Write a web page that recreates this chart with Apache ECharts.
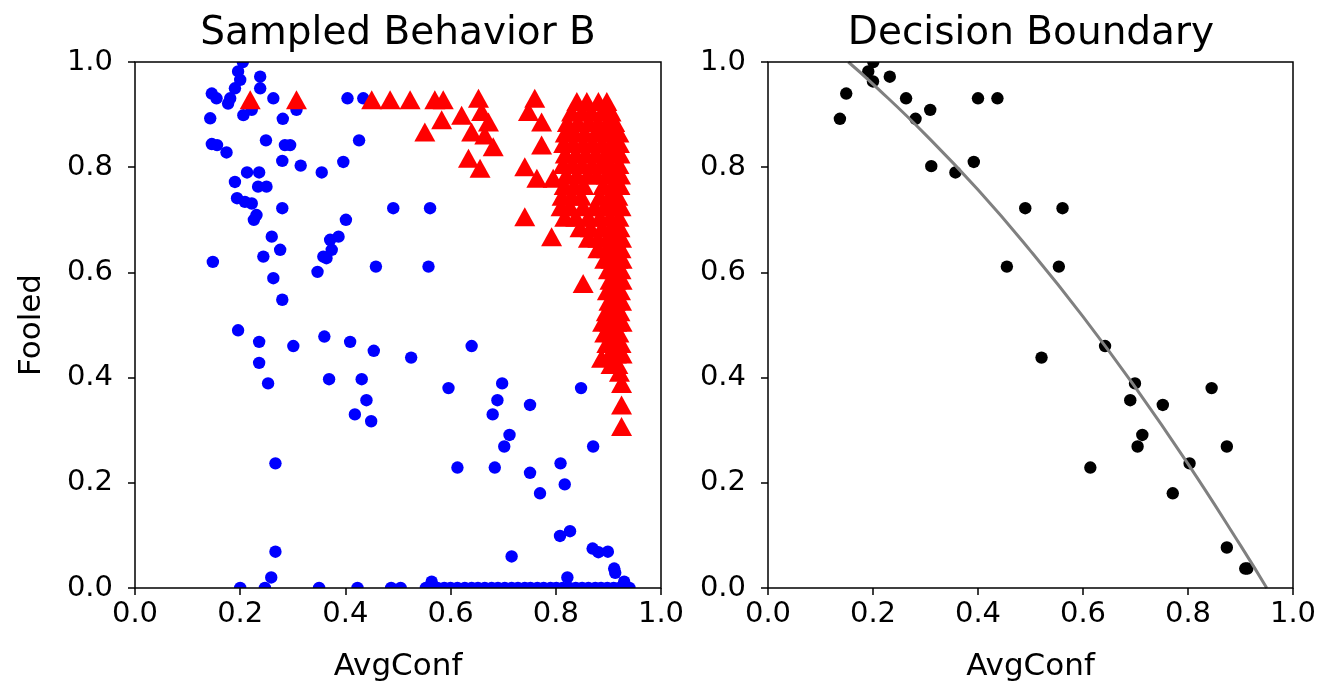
<!DOCTYPE html>
<html lang="en">
<head>
<meta charset="UTF-8">
<title>Sampled Behavior B</title>
<script src="https://cdn.jsdelivr.net/npm/echarts@6/dist/echarts.min.js"></script>
<style>
  html, body { margin: 0; padding: 0; background: #fff; }
  #main { width: 1321px; height: 688px; }
</style>
</head>
<body>
<div id="main"></div>
<script type="text/javascript">
// points: [AvgConf, Fooled]
var notFooled = [
  [0.205,1.0],[0.196,0.982],[0.2,0.966],[0.238,0.972],[0.238,0.95],[0.19,0.95],[0.181,0.931],[0.177,0.921],
  [0.146,0.94],[0.155,0.931],[0.263,0.931],[0.206,0.899],[0.222,0.909],[0.143,0.893],[0.281,0.892],[0.307,0.909],
  [0.404,0.931],[0.434,0.931],[0.249,0.851],[0.426,0.851],[0.146,0.844],[0.156,0.842],[0.174,0.828],[0.285,0.842],
  [0.295,0.842],[0.28,0.812],[0.315,0.803],[0.355,0.79],[0.396,0.81],[0.213,0.79],[0.236,0.79],[0.19,0.772],
  [0.234,0.763],[0.25,0.763],[0.194,0.741],[0.209,0.734],[0.222,0.731],[0.231,0.709],[0.226,0.7],[0.28,0.722],
  [0.491,0.722],[0.561,0.722],[0.401,0.7],[0.26,0.668],[0.276,0.643],[0.244,0.63],[0.387,0.668],[0.371,0.662],
  [0.374,0.643],[0.358,0.63],[0.364,0.627],[0.347,0.601],[0.148,0.62],[0.263,0.589],[0.28,0.548],[0.458,0.611],
  [0.558,0.611],[0.196,0.49],[0.236,0.468],[0.301,0.46],[0.36,0.478],[0.409,0.468],[0.454,0.451],[0.236,0.428],
  [0.253,0.389],[0.369,0.397],[0.431,0.397],[0.44,0.357],[0.418,0.33],[0.449,0.317],[0.267,0.237],[0.267,0.069],
  [0.259,0.02],[0.525,0.438],[0.64,0.46],[0.596,0.38],[0.698,0.389],[0.689,0.357],[0.68,0.33],[0.751,0.348],
  [0.712,0.291],[0.702,0.269],[0.613,0.229],[0.684,0.229],[0.751,0.219],[0.77,0.18],[0.809,0.237],[0.817,0.197],
  [0.848,0.38],[0.871,0.269],[0.808,0.099],[0.827,0.108],[0.716,0.06],[0.87,0.075],[0.881,0.068],[0.899,0.069],
  [0.911,0.037],[0.913,0.029],[0.822,0.02],[0.93,0.012],[0.564,0.012],
  [0.2,0],[0.247,0],[0.35,0],[0.423,0],[0.487,0],[0.505,0],[0.553,0],[0.562,0],[0.575,0],[0.588,0],[0.6,0],
  [0.613,0],[0.627,0],[0.64,0],[0.652,0],[0.665,0],[0.678,0],[0.69,0],[0.703,0],[0.716,0],[0.728,0],[0.741,0],
  [0.752,0],[0.765,0],[0.777,0],[0.79,0],[0.801,0],[0.813,0],[0.826,0],[0.838,0],[0.85,0],[0.862,0],[0.875,0],
  [0.886,0],[0.898,0],[0.91,0],[0.921,0],[0.932,0],[0.94,0]
];

var fooled = [
  [0.219,0.928],[0.307,0.928],[0.450,0.928],[0.485,0.928],[0.523,0.928],[0.570,0.928],[0.586,0.928],[0.551,0.867],
  [0.583,0.890],[0.621,0.899],[0.653,0.931],[0.659,0.906],[0.640,0.867],[0.672,0.886],[0.665,0.861],[0.681,0.839],
  [0.634,0.817],[0.656,0.798],[0.760,0.931],[0.748,0.906],[0.773,0.886],[0.773,0.842],[0.741,0.801],[0.764,0.779],
  [0.795,0.779],[0.741,0.706],[0.792,0.668],[0.852,0.579],[0.887,0.437],[0.925,0.389],[0.925,0.348],[0.925,0.307],
  // dense block on the right
  [0.840,0.925],[0.859,0.925],[0.881,0.925],[0.897,0.925],
  [0.830,0.905],[0.850,0.905],[0.868,0.905],[0.888,0.905],[0.905,0.905],
  [0.822,0.885],[0.842,0.885],[0.862,0.885],[0.880,0.885],[0.898,0.885],[0.912,0.885],
  [0.818,0.865],[0.836,0.865],[0.855,0.865],[0.875,0.865],[0.893,0.865],[0.910,0.865],[0.920,0.865],
  [0.815,0.845],[0.833,0.845],[0.852,0.845],[0.870,0.845],[0.888,0.845],[0.905,0.845],[0.921,0.845],
  [0.818,0.825],[0.838,0.825],[0.857,0.825],[0.876,0.825],[0.894,0.825],[0.910,0.825],[0.922,0.825],
  [0.814,0.805],[0.832,0.805],[0.850,0.805],[0.869,0.805],[0.887,0.805],[0.903,0.805],[0.920,0.805],
  [0.820,0.785],[0.840,0.785],[0.860,0.785],[0.878,0.785],[0.896,0.785],[0.912,0.785],[0.923,0.785],
  [0.816,0.765],[0.835,0.765],[0.853,0.765],[0.890,0.765],[0.908,0.765],[0.922,0.765],
  [0.812,0.745],[0.830,0.745],[0.848,0.745],[0.884,0.745],[0.902,0.745],[0.918,0.745],
  [0.810,0.725],[0.827,0.725],[0.852,0.725],[0.874,0.725],[0.893,0.725],[0.910,0.725],[0.924,0.725],
  [0.817,0.705],[0.838,0.705],[0.862,0.705],[0.884,0.705],[0.903,0.705],[0.920,0.705],
  [0.846,0.685],[0.866,0.685],[0.888,0.685],[0.906,0.685],[0.922,0.685],
  [0.862,0.665],[0.880,0.665],[0.898,0.665],[0.914,0.665],[0.925,0.665],
  [0.880,0.645],[0.897,0.645],[0.912,0.645],[0.924,0.645],
  [0.893,0.625],[0.905,0.625],[0.918,0.625],[0.926,0.625],
  [0.900,0.605],[0.912,0.605],[0.924,0.605],
  [0.903,0.585],[0.915,0.585],[0.926,0.585],
  [0.898,0.565],[0.911,0.565],[0.923,0.565],
  [0.901,0.545],[0.914,0.545],[0.925,0.545],
  [0.896,0.525],[0.909,0.525],[0.922,0.525],
  [0.889,0.505],[0.902,0.505],[0.916,0.505],[0.926,0.505],
  [0.893,0.485],[0.907,0.485],[0.920,0.485],
  [0.897,0.465],[0.910,0.465],[0.924,0.465],
  [0.903,0.445],[0.915,0.445],[0.926,0.445],
  [0.905,0.425],[0.918,0.425],[0.921,0.41]
];

var boundaryPts = [
  [0.2006,1.0],[0.191,0.982],[0.2,0.963],[0.232,0.972],[0.149,0.94],[0.137,0.892],[0.263,0.931],[0.309,0.909],
  [0.281,0.892],[0.4,0.931],[0.437,0.931],[0.311,0.802],[0.357,0.79],[0.392,0.81],[0.49,0.722],[0.561,0.722],
  [0.455,0.611],[0.554,0.611],[0.521,0.438],[0.642,0.46],[0.699,0.389],[0.69,0.357],[0.752,0.348],[0.845,0.38],
  [0.713,0.291],[0.704,0.269],[0.874,0.269],[0.614,0.229],[0.803,0.237],[0.771,0.18],[0.874,0.077],[0.909,0.037],
  [0.913,0.037]
];

var boundaryLine = [
  [0.153,1.0],[0.2,0.958],[0.3,0.862],[0.4,0.757],[0.5,0.641],[0.6,0.516],[0.7,0.381],[0.8,0.236],[0.9,0.081],[0.95,0.0]
];

var font = 'DejaVu Sans';

function xAx(gi, label) {
  return {
    type: 'value', gridIndex: gi, min: 0, max: 1, interval: 0.2,
    name: label, nameLocation: 'middle', nameGap: 63,
    nameTextStyle: { fontFamily: font, fontSize: 31, color: '#000' },
    axisLine: { show: false },
    axisTick: { show: true, inside: false, length: 7, lineStyle: { color: '#000', width: 1.5 } },
    axisLabel: { margin: 12, fontFamily: font, fontSize: 29, color: '#000',
      formatter: function (v) { return v.toFixed(1); } },
    splitLine: { show: false }
  };
}
function yAx(gi, label) {
  return {
    type: 'value', gridIndex: gi, min: 0, max: 1, interval: 0.2,
    name: label, nameLocation: 'middle', nameGap: 88, nameRotate: 90,
    nameTextStyle: { fontFamily: font, fontSize: 31, color: '#000' },
    axisLine: { show: false },
    axisTick: { show: true, inside: false, length: 7, lineStyle: { color: '#000', width: 1.5 } },
    axisLabel: { margin: 22, fontFamily: font, fontSize: 29, color: '#000',
      formatter: function (v) { return v.toFixed(1); } },
    splitLine: { show: false }
  };
}

// round markers drawn through a custom series so they get clipped at the frame like matplotlib
function dots(gi, data, color) {
  return {
    type: 'custom', xAxisIndex: gi, yAxisIndex: gi, data: data, clip: true,
    encode: { x: 0, y: 1 },
    renderItem: function (params, api) {
      var p = api.coord([api.value(0), api.value(1)]);
      return { type: 'circle', shape: { cx: p[0], cy: p[1], r: 6.2 }, style: { fill: color } };
    }
  };
}

var myChart = echarts.init(document.getElementById('main'));
var option = {
  animation: false,
  backgroundColor: '#fff',
  title: [
    { text: 'Sampled Behavior B', left: 393, textAlign: 'center', top: 9,
      textStyle: { fontFamily: font, fontSize: 39, fontWeight: 'normal', color: '#000' } },
    { text: 'Decision Boundary', left: 1026, textAlign: 'center', top: 9,
      textStyle: { fontFamily: font, fontSize: 39, fontWeight: 'normal', color: '#000' } }
  ],
  grid: [
    { left: 135, top: 62, width: 526, height: 526, show: true, borderColor: '#000', borderWidth: 1.5, z: 10 },
    { left: 768, top: 62, width: 525, height: 526, show: true, borderColor: '#000', borderWidth: 1.5, z: 10 }
  ],
  xAxis: [xAx(0, 'AvgConf'), xAx(1, 'AvgConf')],
  yAxis: [yAx(0, 'Fooled'), yAx(1, '')],
  series: [
    dots(0, notFooled, '#0000ff'),
    { type: 'scatter', xAxisIndex: 0, yAxisIndex: 0, data: fooled, symbol: 'triangle', symbolSize: [21, 19],
      itemStyle: { color: '#ff0000', opacity: 1 } },
    { type: 'line', xAxisIndex: 1, yAxisIndex: 1, data: boundaryLine, smooth: true, showSymbol: false,
      lineStyle: { color: '#808080', width: 3 }, clip: true },
    dots(1, boundaryPts, '#000000')
  ]
};
myChart.setOption(option);
</script>
</body>
</html>
